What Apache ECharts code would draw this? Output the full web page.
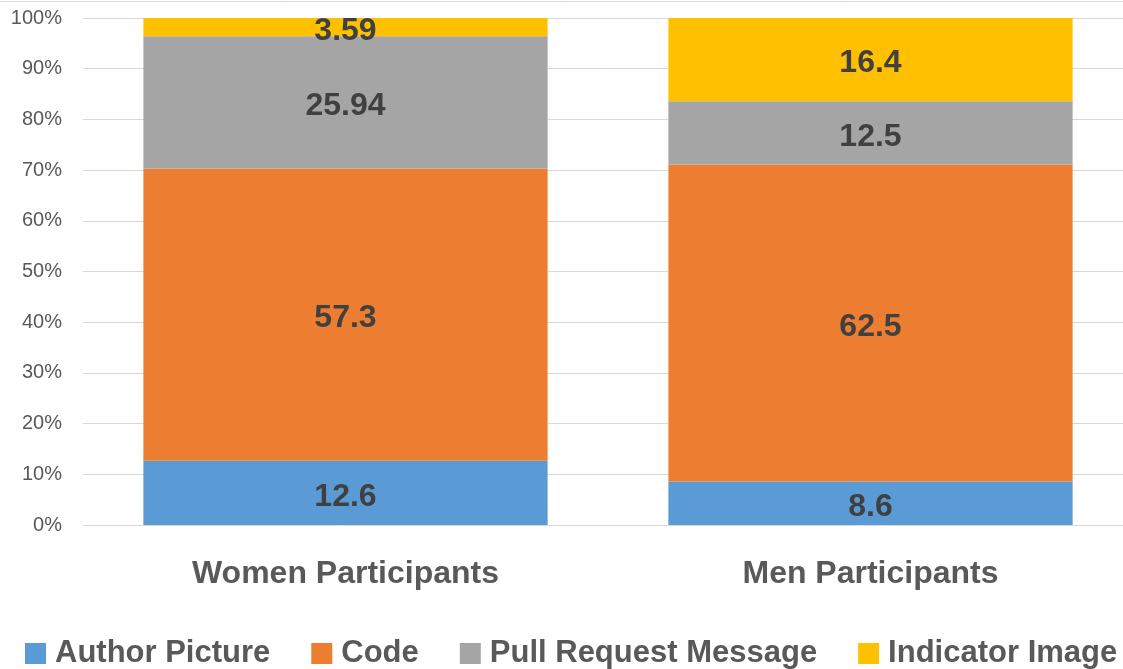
<!DOCTYPE html>
<html><head><meta charset="utf-8">
<script src="https://cdn.jsdelivr.net/npm/echarts@6/dist/echarts.min.js"></script>
<style>html,body{margin:0;padding:0;background:#fff}#c{width:1123px;height:669px}</style>
</head><body><div id="c"></div>
<script>
const categories = ["Women Participants", "Men Participants"];
const seriesNames = ["Author Picture", "Code", "Pull Request Message", "Indicator Image"];
const authorPicture = [12.6, 8.6];
const code = [57.3, 62.5];
const pullRequestMessage = [25.94, 12.5];
const indicatorImage = [3.59, 16.4];
const colors = ["#5B9BD5", "#ED7D31", "#A5A5A5", "#FFC000"];

const raw = [authorPicture, code, pullRequestMessage, indicatorImage];
const totals = categories.map((_, i) => raw.reduce((s, a) => s + a[i], 0));
const FONT = "Liberation Sans";

const chart = echarts.init(document.getElementById('c'), null, {renderer: 'canvas'});
chart.setOption({
  animation: false,
  textStyle: {fontFamily: FONT},
  grid: {left: 83, width: 1050, top: 18, height: 507, containLabel: false, outerBoundsMode: 'none'},
  graphic: [{type: 'line', shape: {x1: 0, y1: 1.5, x2: 1123, y2: 1.5}, style: {stroke: '#D9D9D9', lineWidth: 1}, silent: true}],
  xAxis: {
    type: 'category', data: categories,
    axisLine: {show: false}, axisTick: {show: false},
    axisLabel: {color: '#595959', fontSize: 32, fontWeight: 'bold', margin: 33, fontFamily: FONT}
  },
  yAxis: {
    type: 'value', min: 0, max: 100, interval: 10,
    axisLabel: {formatter: '{value}%', color: '#595959', fontSize: 20, margin: 21, fontFamily: FONT},
    splitLine: {lineStyle: {color: '#D9D9D9', width: 1}},
    axisLine: {show: false}, axisTick: {show: false}
  },
  legend: {
    data: seriesNames, left: 25, top: 638, width: 1300, padding: 0,
    itemWidth: 21, itemHeight: 21, itemGap: 41,
    icon: 'rect',
    textStyle: {color: '#595959', fontSize: 31, fontWeight: 'bold', fontFamily: FONT, padding: [0, 0, 0, 4]}
  },
  series: seriesNames.map((name, k) => ({
    name, type: 'bar', stack: 'total', barWidth: '77%',
    itemStyle: {color: colors[k]},
    data: raw[k].map((v, i) => ({value: v / totals[i] * 100})),
    label: {
      show: true, position: 'inside', offset: [0, 4], color: '#404040', fontSize: 32, fontWeight: 'bold', fontFamily: FONT,
      formatter: p => String(raw[k][p.dataIndex])
    }
  }))
});
</script></body></html>
